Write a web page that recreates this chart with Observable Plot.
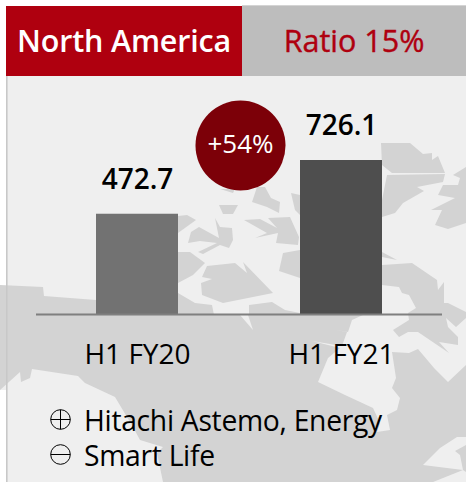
<!DOCTYPE html>
<html>
<head>
<meta charset="utf-8">
<script src="https://cdn.jsdelivr.net/npm/d3@7"></script>
<script src="https://cdn.jsdelivr.net/npm/@observablehq/plot@0.6"></script>
<style>
html,body{margin:0;padding:0;background:#fff;}
#stage{position:relative;width:466px;height:482px;overflow:hidden;font-family:"Open Sans",sans-serif;color:#000;}
#map,#chart{position:absolute;left:0;top:0;}
.head{position:absolute;top:6px;height:70px;line-height:68px;text-align:center;box-sizing:border-box;}
#h1{left:6px;width:236px;background:#af000f;color:#fff;font-size:30.5px;font-weight:600;letter-spacing:-.2px;}
#h2{left:242px;width:224px;background:#bdbdbd;color:#af000f;font-size:30.5px;font-weight:500;-webkit-text-stroke:.4px #af000f;}
.note{position:absolute;left:84px;font-size:28.3px;line-height:34px;white-space:nowrap;letter-spacing:-.3px;}
.sign{position:absolute;left:50px;width:21px;height:21px;}
</style>
</head>
<body>
<div id="stage">
<svg id="map" width="466" height="482" viewBox="0 0 466 482">
<rect x="7" y="76" width="459" height="406" fill="#efefef"/>
<g fill="#d3d3d3">
<path d="M381,143L410,143L423,154L432,153L432,160L438,156L445,173L392,173L382,165Z"/>
<path d="M387,175L445,174L443,182L417,187L424,191L403,203L395,213L382,217L382,200Z"/>
<path d="M466,167L453,175L460,178L458,185L443,185L438,195L455,198L431,210L442,210L435,225L448,229L466,223Z"/>
<path d="M220,189L235,189L233,193Z"/>
<path d="M257,187L265,187L271,198L280,202L279,213L267,207L252,202Z"/>
<path d="M219,205L238,205L233,214L223,214Z"/>
<path d="M291,193L300,195L300,215L295,210Z"/>
<path d="M244,220L260,219L277,228L268,218L290,217L299,237L298,245L276,243L278,233L255,238L267,233Z"/>
<path d="M178,216L187,215L196,220L178,233Z"/>
<path d="M188,243L191,232L199,227L219,238L215,218L220,227L232,228L233,240L229,248L220,245L203,254L198,252L217,243L200,241Z"/>
<path d="M178,252L190,252L205,263L193,275L178,283Z"/>
<path d="M207,266L235,263L247,273L243,262L273,293L248,298L223,303L202,295L201,283L212,279L202,277Z"/>
<path d="M283,253L300,250L300,278L279,271Z"/>
<path d="M382,252L397,260L382,257Z"/>
<path d="M382,265L412,263L437,280L438,290L444,282L444,303L448,303L466,312L466,318L456,327L446,318L448,327L458,337L458,345L439,342L449,353L418,332L408,332L399,337L393,330L409,320L408,313L416,308L409,295L402,293L399,287L382,285Z"/>
<path d="M178,293L195,303L212,305L214,315L178,315Z"/>
<path d="M249,305L272,302L285,310L300,313L300,315L249,315Z"/>
<path d="M0,285L43,287L44,296L96,300L96,315L0,315Z"/>
<rect x="0" y="314" width="466" height="168"/>
</g>
<g fill="#efefef">
<path d="M318,382L328,358L340,348L312,341L342,346L347,332L336,330L348,332L352,320L363,315L408,313L409,320L393,330L399,337L408,332L418,332L449,353L439,342L458,345L458,337L448,327L446,318L456,327L466,318L466,365L448,382L434,368L418,349L409,353L392,352L396,378L392,388L400,398L397,410L387,415L390,430L377,432L380,423L373,408L345,395Z"/>
<path d="M0,390L20,372L21,382L30,378L32,369L78,376L85,383L115,397L133,427L140,440L163,447L157,453L163,482L0,482Z"/>
<path d="M423,465L440,448L457,437L466,437L466,445L455,451L460,455L463,470L466,472L466,482L433,482L463,470Z"/>
<path d="M240,315L253,330L248,315Z"/>
</g>
<rect x="0" y="390" width="6.5" height="92" fill="#fff"/>
<rect x="6" y="76" width="1.6" height="406" fill="#c8c8c8"/>
<rect x="242" y="5" width="224" height="1.5" fill="#d4d4d4"/>
</svg>
<div id="chart"></div>
<div class="head" id="h1">North America</div>
<div class="head" id="h2">Ratio 15%</div>
<svg class="sign" style="top:409px" viewBox="0 0 21 21"><g fill="none" stroke="#000" stroke-width="1"><circle cx="10.5" cy="10.5" r="9.8"/><path d="M.7,10.5H20.3M10.5,.7V20.3"/></g></svg>
<svg class="sign" style="top:444px" viewBox="0 0 21 21"><g fill="none" stroke="#000" stroke-width="1"><circle cx="10.5" cy="10.5" r="9.8"/><path d="M.7,10.5H20.3"/></g></svg>
<div class="note" style="top:403px">Hitachi Astemo, Energy</div>
<div class="note" style="top:438px">Smart Life</div>
</div>
<script>
const periods = ["H1 FY20", "H1 FY21"];
const revenue = [472.7, 726.1];
const barColors = ["#727272", "#4e4e4e"];
const growthLabel = "+54%";

const rows = periods.map((period, i) => ({period, value: revenue[i], color: barColors[i]}));

const plot = Plot.plot({
  width: 466,
  height: 482,
  marginTop: 0,
  marginLeft: 36,
  marginRight: 24,
  marginBottom: 168,
  style: {background: "transparent", fontFamily: '"Open Sans",sans-serif', color: "#000"},
  x: {domain: periods, range: [35, 443], paddingInner: 0.598, paddingOuter: 0.299, label: null},
  y: {domain: [0, 726.1], range: [314, 160], axis: null},
  marks: [
    Plot.barY(rows, {x: "period", y: "value", fill: "color"}),
    Plot.ruleY([0], {stroke: "#7f7f7f", strokeWidth: 2}),
    Plot.text(rows, {x: "period", y: "value", text: d => d.value.toFixed(1), dy: -34, fontSize: 28, fontWeight: 600, fill: "#000"}),
    Plot.dot([growthLabel], {frameAnchor: "top-left", dx: 204, dy: 145, r: 45, fill: "#7c0008", stroke: "none"}),
    Plot.text([growthLabel], {frameAnchor: "top-left", dx: 204, dy: 144, text: d => d, textAnchor: "middle", lineAnchor: "middle", fontSize: 26, fill: "#fff", fontWeight: 500}),
    Plot.axisX({tickSize: 0, tickPadding: 30, fontSize: 28, label: null, fill: "#000"})
  ]
});
document.getElementById("chart").appendChild(plot);
</script>
</body>
</html>
